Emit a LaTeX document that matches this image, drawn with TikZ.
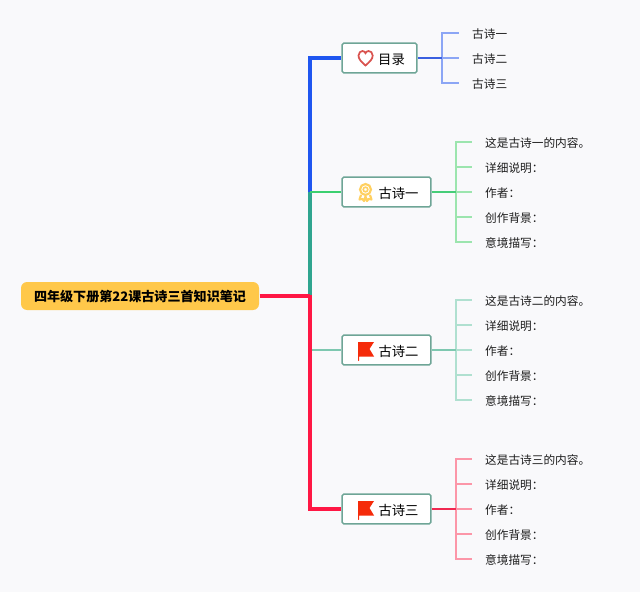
\documentclass[tikz,border=0pt]{standalone}
\usepackage{fontspec}
\setmainfont{Noto Sans CJK SC}

\tikzset{every picture/.style={line width=0.75pt}}
\tikzset{
  rootbox/.style={rounded corners=4.5pt,fill={rgb, 255:red, 255; green, 200; blue, 74},minimum width=178.5pt,minimum height=21pt,inner sep=0pt,text height=8.1pt,text depth=0pt,font=\fontsize{9.8}{12}\selectfont\bfseries},
  topicbox/.style={draw={rgb, 255:red, 110; green, 165; blue, 150},line width=1.1pt,rounded corners=1.2pt,fill=white,minimum height=22.2pt,inner sep=0pt,text height=9.1pt,text depth=0pt,font=\fontsize{10}{12}\selectfont},
  leaftext/.style={anchor=west,inner ysep=0pt,inner xsep=9.5pt,text height=8.1pt,text depth=0pt,font=\fontsize{8.75}{11}\selectfont,text={rgb, 255:red, 30; green, 30; blue, 30}}
}

\begin{document}
\begin{tikzpicture}[x=0.75pt,y=0.75pt,yscale=-1,xscale=1]
\useasboundingbox (0,0) rectangle (640,592);
\fill [color={rgb, 255:red, 249; green, 249; blue, 251 }] (0,0) rectangle (640,592);

% Text Node
\draw (140,296) node [rootbox] (root) {四年级下册第22课古诗三首知识笔记};
% Text Node
\draw (379.5,58) node [topicbox,minimum width=56.2pt] (mulu) {\hspace*{18pt}目录};
% Text Node
\draw (386.5,192) node [topicbox,minimum width=66.7pt] (one) {\hspace*{18pt}古诗一};
% Text Node
\draw (386.5,350) node [topicbox,minimum width=66.7pt] (two) {\hspace*{18pt}古诗二};
% Text Node
\draw (386.5,509) node [topicbox,minimum width=66.7pt] (three) {\hspace*{18pt}古诗三};

% Text Node
\draw (459,33) node [leaftext] (m1) {古诗一};
\draw (459,58) node [leaftext] (m2) {古诗二};
\draw (459,83) node [leaftext] (m3) {古诗三};
% Text Node
\draw (472,142) node [leaftext] (a1) {这是古诗一的内容。};
\draw (472,167) node [leaftext] (a2) {详细说明：};
\draw (472,192) node [leaftext] (a3) {作者：};
\draw (472,217) node [leaftext] (a4) {创作背景：};
\draw (472,242) node [leaftext] (a5) {意境描写：};
% Text Node
\draw (472,300) node [leaftext] (b1) {这是古诗二的内容。};
\draw (472,325) node [leaftext] (b2) {详细说明：};
\draw (472,350) node [leaftext] (b3) {作者：};
\draw (472,375) node [leaftext] (b4) {创作背景：};
\draw (472,400) node [leaftext] (b5) {意境描写：};
% Text Node
\draw (472,459) node [leaftext] (c1) {这是古诗三的内容。};
\draw (472,484) node [leaftext] (c2) {详细说明：};
\draw (472,509) node [leaftext] (c3) {作者：};
\draw (472,534) node [leaftext] (c4) {创作背景：};
\draw (472,559) node [leaftext] (c5) {意境描写：};

\coordinate (trunk) at (310,296);
\coordinate (trunkone) at (310,192);
\coordinate (trunktwo) at (310,350);
\coordinate (jm) at (442,58);
\coordinate (ja) at (456,192);
\coordinate (jb) at (456,350);
\coordinate (jc) at (456,509);

%Straight Lines
\draw [color={rgb, 255:red, 31; green, 86; blue, 240 },line width=3.2pt] (trunkone) |- (mulu.west);
\draw [color={rgb, 255:red, 47; green, 165; blue, 143 },line width=2.4pt] (trunk) -- (trunkone);
\draw [color={rgb, 255:red, 60; green, 208; blue, 112 },line width=1.6pt] (trunkone) -- (one.west);
\draw [color={rgb, 255:red, 126; green, 200; blue, 176 },line width=1.2pt] (trunktwo) -- (two.west);
\draw [color={rgb, 255:red, 255; green, 23; blue, 68 },line width=3.6pt] (root.east) -- (trunk);
\draw [color={rgb, 255:red, 255; green, 23; blue, 68 },line width=3.6pt] (309.9,294.5) |- (three.west);

%Straight Lines
\draw [color={rgb, 255:red, 140; green, 166; blue, 245 },line width=1pt] (jm) |- (m1.west);
\draw [color={rgb, 255:red, 140; green, 166; blue, 245 },line width=1pt] (jm) -- (m2.west);
\draw [color={rgb, 255:red, 140; green, 166; blue, 245 },line width=1pt] (jm) |- (m3.west);
\draw [color={rgb, 255:red, 58; green, 96; blue, 224 },line width=1.2pt] (mulu.east) -- (jm);
%Straight Lines
\draw [color={rgb, 255:red, 156; green, 229; blue, 174 },line width=1pt] (ja) |- (a1.west);
\draw [color={rgb, 255:red, 156; green, 229; blue, 174 },line width=1pt] (ja) |- (a2.west);
\draw [color={rgb, 255:red, 156; green, 229; blue, 174 },line width=1pt] (ja) -- (a3.west);
\draw [color={rgb, 255:red, 156; green, 229; blue, 174 },line width=1pt] (ja) |- (a4.west);
\draw [color={rgb, 255:red, 156; green, 229; blue, 174 },line width=1pt] (ja) |- (a5.west);
\draw [color={rgb, 255:red, 70; green, 205; blue, 120 },line width=1.2pt] (one.east) -- (ja);
%Straight Lines
\draw [color={rgb, 255:red, 176; green, 224; blue, 208 },line width=1pt] (jb) |- (b1.west);
\draw [color={rgb, 255:red, 176; green, 224; blue, 208 },line width=1pt] (jb) |- (b2.west);
\draw [color={rgb, 255:red, 176; green, 224; blue, 208 },line width=1pt] (jb) -- (b3.west);
\draw [color={rgb, 255:red, 176; green, 224; blue, 208 },line width=1pt] (jb) |- (b4.west);
\draw [color={rgb, 255:red, 176; green, 224; blue, 208 },line width=1pt] (jb) |- (b5.west);
\draw [color={rgb, 255:red, 126; green, 200; blue, 176 },line width=1.2pt] (two.east) -- (jb);
%Straight Lines
\draw [color={rgb, 255:red, 252; green, 150; blue, 168 },line width=1pt] (jc) |- (c1.west);
\draw [color={rgb, 255:red, 252; green, 150; blue, 168 },line width=1pt] (jc) |- (c2.west);
\draw [color={rgb, 255:red, 252; green, 150; blue, 168 },line width=1pt] (jc) -- (c3.west);
\draw [color={rgb, 255:red, 252; green, 150; blue, 168 },line width=1pt] (jc) |- (c4.west);
\draw [color={rgb, 255:red, 252; green, 150; blue, 168 },line width=1pt] (jc) |- (c5.west);
\draw [color={rgb, 255:red, 240; green, 40; blue, 80 },line width=1.2pt] (three.east) -- (jc);

%Curve Lines
\draw [color={rgb, 255:red, 217; green, 83; blue, 79 },line width=1.3pt] (365.5,65.5) .. controls (361,61.5) and (358.5,59) .. (358.5,55.5) .. controls (358.5,52.5) and (361,51) .. (362.5,51) .. controls (364,51) and (365,52) .. (365.5,53.2) .. controls (366,52) and (367,51) .. (368.5,51) .. controls (370.5,51) and (372.7,52.5) .. (372.7,55.5) .. controls (372.7,59) and (370,61.5) .. (365.5,65.5) -- cycle;
%Shape: Circle
\draw [color={rgb, 255:red, 255; green, 208; blue, 96 },line width=1.6pt] (365.5,189.5) circle [radius=5.5];
\draw [color={rgb, 255:red, 255; green, 208; blue, 96 },line width=1.2pt] (365.5,189.5) circle [radius=2.3];
\draw [color={rgb, 255:red, 255; green, 208; blue, 96 },line width=1.6pt,line join=round] (361,195) -- (359.5,199.5) -- (362.5,199) -- (364,201) -- (365.5,196.5) -- (367,201) -- (368.5,199) -- (371.5,199.5) -- (370,195);
%Shape: Polygon
\fill [color={rgb, 255:red, 245; green, 43; blue, 10 }] (358,342) -- (374,342) -- (369.5,349) -- (374,356.5) -- (359.2,356.5) -- (359.2,360.5) -- (358,361) -- cycle;
\fill [color={rgb, 255:red, 245; green, 43; blue, 10 }] (358,501) -- (374,501) -- (369.5,508) -- (374,515.5) -- (359.2,515.5) -- (359.2,519.5) -- (358,520) -- cycle;

\end{tikzpicture}
\end{document}
